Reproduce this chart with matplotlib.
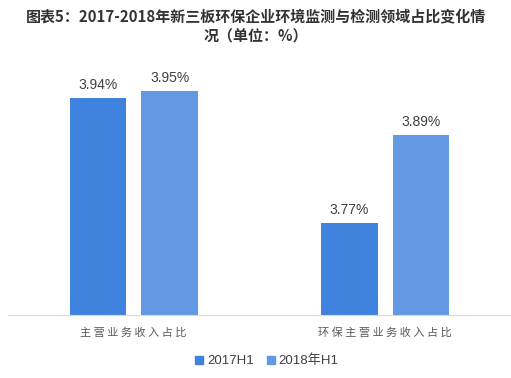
import matplotlib.pyplot as plt
import numpy as np

plt.rcParams['font.family'] = ['Noto Sans CJK SC', 'DejaVu Sans']

categories = ['主营业务收入占比', '环保主营业务收入占比']
series_names = ['2017H1', '2018年H1']
values_2017 = [3.94, 3.77]
values_2018 = [3.95, 3.89]

colors = ['#3F83DF', '#6399E3']
latin = ['Liberation Sans', 'Noto Sans CJK SC']

fig = plt.figure(figsize=(5.11, 3.78), dpi=100)
W, H = 511, 378
# plot area in pixels: left 8, right 511, top 60, bottom 315
ax = fig.add_axes([8 / W, 1 - 315 / H, 503 / W, 255 / H])

x = np.arange(len(categories))
width = 0.225
gap = 0.06
b1 = ax.bar(x - (width + gap) / 2, values_2017, width, color=colors[0], label=series_names[0])
b2 = ax.bar(x + (width + gap) / 2, values_2018, width, color=colors[1], label=series_names[1])

for bars in (b1, b2):
    for r in bars:
        ax.text(r.get_x() + r.get_width() / 2, r.get_height() + 0.008,
                f'{r.get_height():.2f}%', ha='center', va='bottom',
                fontsize=10, color='#404040', family=latin)

ax.set_xlim(-0.5, 1.5)
ax.set_ylim(3.645, 3.992)
ax.set_yticks([])
ax.set_xticks(x)
ax.set_xticklabels([' '.join(c) for c in categories], fontsize=8, color='#595959')
ax.tick_params(axis='x', length=0, pad=9)
for s in ['top', 'right', 'left']:
    ax.spines[s].set_visible(False)
ax.spines['bottom'].set_color('#D9D9D9')

fig.text(0.5, 1 - 16 / H, '图表5：2017-2018年新三板环保企业环境监测与检测领域占比变化情',
         ha='center', va='center', fontsize=10.8, fontweight='bold', color='#333333')
fig.text(0.5, 1 - 36 / H, '况（单位：%）',
         ha='center', va='center', fontsize=10.8, fontweight='bold', color='#333333')

handles = [plt.Line2D([], [], marker='s', linestyle='', color=c, markersize=6) for c in colors]
fig.legend(handles, series_names, loc='center', bbox_to_anchor=(264 / W, 1 - 361 / H),
           ncol=2, frameon=False, prop={'family': latin, 'size': 9.5},
           handletextpad=-0.15, handlelength=1.5, columnspacing=0.5, labelcolor='#404040')

fig.savefig('out.png', dpi=100)
